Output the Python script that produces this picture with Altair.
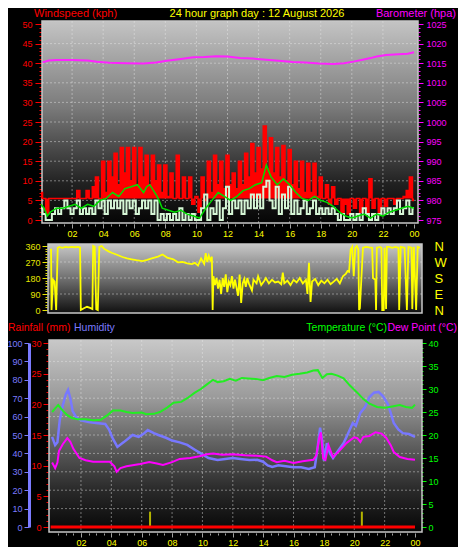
import altair as alt
import pandas as pd

# whole page is 466x555 with an 8px margin -> drawing area 450x539
W, H = 450, 539
FONT = "Liberation Sans"

# ---------------- data ----------------
hour_labels = [2, 4, 6, 8, 10, 12, 14, 16, 18, 20, 22, 24]
grid_hours = [2, 4, 6, 8, 10, 12, 14, 16, 18, 20, 22]
half_hours = [h / 2 for h in range(1, 48)]

# gust / wind speed sampled every 0.2 h (rows = 2 hours)
gust_kph = [
    7, 5.5, 1.5, 5.5, 5.5, 5.5, 5.5, 5.5, 5.5, 5.5,
    5.5, 5.5, 7.5, 5.5, 5.5, 7.5, 5.5, 8.5, 11, 5.5,
    15, 7, 15, 11, 17, 9, 18.5, 12, 18.5, 10,
    18.5, 9, 18.5, 11, 16.5, 9, 16.5, 10, 14, 7,
    14, 6, 12, 5.5, 16.5, 5.5, 11, 5.5, 11, 4,
    6, 2, 11, 5, 15, 7, 16.5, 9, 15, 8,
    16.5, 9, 12, 8, 15, 9, 17, 11, 19.5, 12,
    18.5, 13, 24, 13, 21, 12, 18.5, 11, 19, 10,
    18, 9, 15, 8, 15, 7, 14.5, 7, 14.5, 6,
    11, 5.5, 9, 4, 8.5, 4, 5.5, 2, 4, 1.5,
    5.5, 3, 5.5, 2, 5.5, 2, 10.5, 3, 5.5, 2,
    5.5, 3.5, 5.5, 5.5, 4, 5.5, 5.5, 6, 7.5, 11,
    5,
]
gust_floor_kph = 5.5
wind_kph = [
    3, 1.5, 0, 0, 1.5, 3, 1.5, 3, 5, 3,
    1.5, 3, 5, 1.5, 3, 1.5, 3, 1.5, 5, 3,
    5, 1.5, 5, 3, 5, 3, 5, 1.5, 5, 3,
    5, 1.5, 3, 5, 3, 5, 1.5, 5, 0, 1.5,
    0, 1.5, 0, 1.5, 0, 3, 0, 1.5, 0, 1.5,
    0, 0, 3, 6.5, 0, 3, 1.5, 5, 0, 3,
    8.5, 1.5, 5, 3, 5, 1.5, 5, 3, 6.5, 3,
    6.5, 3, 8.5, 10, 5, 3, 8.5, 1.5, 6.5, 3,
    8.5, 1.5, 5, 1.5, 3, 5, 1.5, 3, 5, 1.5,
    3, 1.5, 3, 1.5, 3, 1.5, 0, 1.5, 0, 0,
    1.5, 0, 1.5, 0, 3, 1.5, 0, 1.5, 0, 1.5,
    3, 1.5, 3, 1.5, 3, 5, 1.5, 3, 5, 1.5,
    3,
]
sample_hours = [round(i * 0.2, 2) for i in range(len(gust_kph))]

avg_pts = [(0.0, 4), (0.2, 3), (0.4, 1), (0.6, 2), (0.8, 2.5), (1.0, 3), (1.4, 3), (1.8, 3.5),
           (2.2, 4), (2.6, 3), (3.0, 4), (3.4, 3.5), (3.8, 5), (4.2, 5.5), (4.6, 7), (5.0, 6),
           (5.4, 8), (5.8, 8.5), (6.2, 9), (6.6, 7), (6.8, 8.5), (7.0, 9), (7.4, 6.5), (7.6, 5),
           (7.8, 3), (8.2, 2.5), (8.6, 2), (9.0, 2.5), (9.4, 1.5), (9.8, 1), (10.2, 0.5), (10.6, 3),
           (11.0, 5), (11.4, 7), (11.8, 6), (12.2, 5), (12.6, 6), (13.0, 7.5), (13.4, 8), (13.8, 9),
           (14.2, 9.5), (14.5, 14), (14.8, 11), (15.2, 9), (15.6, 10.5), (16.0, 9), (16.4, 7),
           (16.8, 5.5), (17.2, 5), (17.6, 6), (18.0, 5), (18.4, 4.5), (18.8, 3.5), (19.2, 2),
           (19.6, 1), (20.0, 0.5), (20.4, 1), (20.8, 1.5), (21.2, 0.5), (21.6, 1.5), (22.0, 1),
           (22.4, 2), (22.8, 2.5), (23.2, 3), (23.6, 3.5), (24.0, 3)]

baro_pts = [(0.1, 1015.2), (0.5, 1015.7), (1.0, 1015.8), (2.0, 1015.8), (3.0, 1015.7), (3.6, 1015.4),
            (4.4, 1015.1), (5.5, 1015.0), (6.6, 1014.9), (7.4, 1015.2), (8.1, 1015.6), (9.0, 1016.1),
            (9.8, 1016.5), (10.5, 1016.6), (11.3, 1016.8), (12.0, 1016.7), (12.8, 1016.3),
            (13.6, 1016.2), (14.5, 1015.9), (15.3, 1015.6), (16.2, 1015.3), (17.0, 1015.2),
            (17.9, 1014.9), (18.8, 1014.8), (19.5, 1015.0), (20.1, 1015.4), (20.7, 1015.9),
            (21.2, 1016.3), (21.6, 1016.7), (22.2, 1017.1), (23.0, 1017.3), (23.6, 1017.4), (24.0, 1017.8)]

dir_pts = [(0.0, 340), (0.07, 340), (0.1, 0), (0.2, 170), (0.3, 160), (0.4, 0), (0.5, 350), (0.6, 355),
           (0.8, 350), (1.0, 355), (1.2, 352), (1.4, 355), (1.6, 353), (1.8, 355), (1.95, 352), (2.0, 0),
           (2.2, 10), (2.4, 18), (2.6, 12), (2.75, 5), (2.8, 360), (2.9, 355), (3.0, 5), (3.1, 0),
           (3.2, 355), (3.35, 360), (3.5, 345), (3.8, 330), (4.0, 322), (4.3, 312), (4.5, 305),
           (4.7, 298), (5.0, 290), (5.3, 285), (5.6, 280), (6.0, 275), (6.3, 282), (6.6, 290),
           (7.0, 300), (7.3, 312), (7.6, 295), (8.0, 285), (8.3, 268), (8.6, 270), (8.9, 262),
           (9.2, 258), (9.4, 265), (9.6, 250), (9.8, 290), (10.0, 260), (10.1, 320), (10.2, 270),
           (10.3, 305), (10.4, 280), (10.5, 300), (10.55, 0), (10.6, 190), (10.7, 140), (10.8, 180),
           (10.9, 120), (11.0, 170), (11.1, 90), (11.2, 180), (11.3, 130), (11.4, 200), (11.5, 100),
           (11.6, 160), (11.7, 140), (11.8, 190), (11.9, 120), (12.0, 170), (12.2, 80), (12.3, 200),
           (12.4, 40), (12.5, 150), (12.6, 175), (12.7, 130), (12.8, 180), (12.9, 150), (13.1, 110),
           (13.2, 170), (13.4, 150), (13.5, 190), (13.7, 140), (13.9, 165), (14.0, 180), (14.2, 150),
           (14.4, 170), (14.6, 155), (14.8, 160), (15.0, 145), (15.1, 210), (15.2, 150), (15.4, 165),
           (15.6, 140), (15.8, 170), (16.0, 155), (16.2, 180), (16.4, 150), (16.6, 170), (16.7, 90),
           (16.8, 265), (16.9, 45), (17.0, 160), (17.2, 175), (17.4, 140), (17.6, 165), (17.8, 150),
           (18.0, 170), (18.2, 145), (18.4, 160), (18.6, 175), (18.8, 150), (19.0, 190), (19.2, 205),
           (19.3, 220), (19.4, 215), (19.5, 340), (19.6, 355), (19.7, 190), (19.8, 350), (19.9, 360),
           (20.0, 340), (20.05, 0), (20.1, 10), (20.2, 180), (20.3, 350), (20.5, 355), (20.7, 352),
           (20.9, 350), (20.95, 180), (21.1, 170), (21.15, 0), (21.2, 350), (21.4, 355), (21.5, 350),
           (21.55, 0), (21.65, 0), (21.7, 350), (21.8, 5), (21.85, 355), (22.0, 355), (22.2, 350),
           (22.4, 355), (22.6, 350), (22.65, 0), (22.75, 355), (23.0, 350), (23.15, 0), (23.25, 355),
           (23.45, 350), (23.5, 5), (23.6, 355), (23.75, 0), (23.85, 355), (24.0, 350)]
compass_values = [0, 90, 180, 270, 360]

temp_pts = [(0.1, 25.0), (0.3, 25.8), (0.5, 26.5), (0.8, 25.3), (1.1, 24.3), (1.4, 23.7), (1.8, 23.4),
            (2.3, 23.4), (2.8, 23.2), (3.3, 23.3), (3.7, 24.2), (4.1, 25.3), (4.6, 25.3), (5.0, 25.0),
            (5.4, 24.8), (6.0, 24.9), (6.3, 24.5), (6.8, 24.6), (7.2, 25.0), (7.7, 26.0), (8.1, 27.0),
            (8.6, 27.2), (9.0, 28.0), (9.5, 29.2), (9.9, 30.0), (10.3, 31.0), (10.7, 32.0), (11.0, 31.5),
            (11.4, 31.7), (11.8, 32.2), (12.2, 31.8), (12.6, 32.4), (13.0, 32.3), (13.5, 32.2),
            (14.0, 31.9), (14.4, 32.4), (14.9, 32.8), (15.4, 32.6), (15.9, 33.1), (16.4, 33.3),
            (16.9, 33.6), (17.3, 34.0), (17.6, 34.1), (17.9, 32.4), (18.2, 33.2), (18.5, 33.3),
            (18.9, 32.9), (19.3, 32.3), (19.7, 30.8), (20.2, 29.2), (20.6, 27.8), (21.0, 26.8),
            (21.5, 26.1), (22.0, 25.9), (22.5, 26.2), (23.0, 26.5), (23.4, 26.1), (23.8, 25.9), (24.0, 26.6)]

hum_pts = [(0.1, 49), (0.3, 44.5), (0.45, 46), (0.6, 58), (0.8, 66), (1.0, 72), (1.15, 74.5), (1.3, 70),
           (1.45, 63), (1.7, 59.5), (2.0, 58), (2.5, 57), (3.0, 56.5), (3.6, 56), (3.85, 53), (4.1, 48),
           (4.4, 43.5), (4.8, 46), (5.1, 48), (5.4, 50), (5.8, 49), (6.1, 50.5), (6.4, 52.7), (6.8, 51),
           (7.1, 50), (7.6, 48.5), (8.0, 47), (8.5, 46), (9.0, 44.6), (9.5, 42), (10.0, 39.5),
           (10.4, 37.5), (11.0, 36.4), (11.5, 37), (12.0, 37.5), (12.5, 37), (13.1, 36.4), (13.6, 36.5),
           (14.0, 35.5), (14.3, 33.5), (14.6, 32.6), (15.0, 33.5), (15.5, 33), (16.0, 32.5), (16.5, 32.5),
           (17.0, 31.5), (17.4, 32.5), (17.6, 44), (17.75, 54), (17.9, 46), (18.0, 36), (18.2, 45.6),
           (18.4, 40), (18.6, 37.5), (18.9, 41), (19.3, 45.6), (19.6, 51), (19.9, 56.5), (20.1, 55),
           (20.4, 62), (20.7, 65), (21.0, 70.6), (21.3, 73), (21.6, 73.4), (21.9, 71), (22.2, 67),
           (22.4, 62), (22.6, 56.5), (22.9, 53), (23.2, 51), (23.6, 50.5), (24.0, 49)]

dew_pts = [(0.1, 14), (0.3, 12.8), (0.45, 14), (0.55, 16.5), (0.8, 18), (1.1, 19.3), (1.3, 18.5),
           (1.5, 17), (1.9, 15), (2.3, 14.5), (2.8, 14.2), (3.4, 14.2), (3.9, 14.2), (4.2, 13.2),
           (4.35, 12), (4.6, 12.8), (5.0, 13.2), (5.5, 13.5), (5.9, 13.7), (6.5, 14.1), (7.0, 13.8),
           (7.4, 13.5), (8.0, 14.1), (8.5, 14.8), (9.2, 15.0), (9.8, 15.4), (10.3, 15.8), (10.7, 16.0),
           (11.3, 15.7), (12.0, 15.8), (12.8, 15.6), (13.6, 15.5), (14.2, 15.3), (14.6, 14.5),
           (14.9, 14.1), (15.4, 14.4), (16.0, 13.9), (16.6, 14.3), (17.3, 14.6), (17.5, 15.5),
           (17.7, 19.5), (17.8, 20.6), (17.95, 15.0), (18.1, 14.6), (18.3, 17.8), (18.45, 16.5),
           (18.6, 15.2), (19.0, 16.5), (19.5, 18.3), (20.0, 19.5), (20.2, 19.3), (20.4, 18.5),
           (20.6, 19.6), (21.0, 19.8), (21.4, 20.6), (21.8, 20.3), (22.1, 19.4), (22.4, 17.8),
           (22.6, 16.3), (23.0, 15.2), (23.5, 14.8), (24.0, 14.6)]

rain_pts = [(0.0, 0), (24.0, 0)]
rain_mark_pts = [(6.55, 2.5), (20.5, 2.5)]

titles = [
    ("Windspeed (kph)", 26, 9, "left", "#ff0000", 11),
    ("24 hour graph day : 12 August 2026", 249, 9, "center", "#ffff00", 11),
    ("Barometer (hpa)", 448, 9, "right", "#ff00ff", 11),
    ("Rainfall (mm)", 0, 323, "left", "#ff0000", 10.5),
    ("Humidity", 66, 323, "left", "#7b7bff", 10.5),
    ("Temperature (°C)", 379, 323, "right", "#00ff00", 10.5),
    ("Dew Point (°C)", 449, 323, "right", "#ff00ff", 10.5),
]


def df(pts, name):
    return pd.DataFrame({"t": [p[0] for p in pts], name: [p[1] for p in pts]})


def grad(stops):
    return {"gradient": "linear", "x1": 0, "x2": 0, "y1": 0, "y2": 1,
            "stops": [{"offset": o, "color": c} for o, c in stops]}


ONE = alt.Data(values=[{"a": 1}])
hour_expr = "(datum.value % 24 < 10 ? '0' : '') + (datum.value % 24)"
grid_style = dict(color="#e8e8e8", strokeDash=[2, 2], opacity=0.45, strokeWidth=1)

# panel geometry (pixels inside the chart group)
XR = {"top": [33, 406], "mid": [42, 412], "bot": [42.6, 407]}
YR = {"top": [212, 16], "mid": [302, 238], "bot": [519, 335]}


def sc(dom, rng):
    return alt.Scale(domain=dom, range=rng, nice=False, zero=False)


def X(panel, field="t:Q", axis=None):
    return alt.X(field, scale=sc([0, 24], XR[panel]), axis=axis)


def Y(panel, dom, field, axis=None):
    return alt.Y(field, scale=sc(dom, YR[panel]), axis=axis)


def xaxis(offset):
    return alt.Axis(orient="bottom", offset=offset, values=hour_labels, labelExpr=hour_expr,
                    labelColor="#ffff00", tickColor="#a0a0a0", tickSize=4, labelPadding=1,
                    domain=False, grid=False, labelFlush=False, title=None, labelFontSize=9)


def yaxis(orient, offset, values, color, tick=5, pad=2, **kw):
    return alt.Axis(orient=orient, offset=offset, values=values, labelColor=color, tickColor=color,
                    tickSize=tick, labelPadding=pad, grid=False, title=None, labelFontSize=9,
                    labelFlush=False, format="d", **kw)


def minor_y(panel, dom, vals, orient, offset, color, size):
    return alt.Chart(pd.DataFrame({"v": vals})).mark_point(opacity=0).encode(
        x=alt.value(100),
        y=Y(panel, dom, "v:Q", axis=alt.Axis(orient=orient, offset=offset, values=vals, labels=False,
                                             domain=False, grid=False, tickColor=color,
                                             tickSize=size, title=None)))


def minor_x(panel, offset):
    return alt.Chart(pd.DataFrame({"t": half_hours})).mark_point(opacity=0).encode(
        y=alt.value(100),
        x=X(panel, axis=alt.Axis(orient="bottom", offset=offset, values=half_hours, labels=False,
                                 domain=False, grid=False, tickColor="#a0a0a0", tickSize=2,
                                 title=None)))


def bg(x0, x1, y0, y1, stops):
    return alt.Chart(ONE).mark_rect(fill=grad(stops), stroke="#c8c8c8", strokeWidth=1.5).encode(
        x=alt.value(x0), x2=alt.value(x1), y=alt.value(y0), y2=alt.value(y1))


layers = []

# ---------------- top panel ----------------
WIND = [0, 50]
BARO = [975, 1025]
TOP_X_OFF = 216 - H
layers.append(bg(34, 410, 13, 215, [(0, "#c4c4c4"), (0.43, "#7a7a7a"), (0.62, "#4c4c4c"),
                                    (0.81, "#202020"), (1, "#050505")]))
layers.append(alt.Chart(pd.DataFrame({"t": grid_hours})).mark_rule(**grid_style).encode(
    x=X("top"), y=alt.value(13), y2=alt.value(215)))
layers.append(alt.Chart(pd.DataFrame({"v": list(range(5, 50, 5))})).mark_rule(**grid_style).encode(
    y=Y("top", WIND, "v:Q"), x=alt.value(34), x2=alt.value(410)))

wind_df = pd.DataFrame({"t": sample_hours, "g": gust_kph, "w": wind_kph})
layers.append(alt.Chart(wind_df).mark_area(color="#ff0000", interpolate="step").encode(
    x=X("top", axis=xaxis(TOP_X_OFF)),
    y=Y("top", WIND, "g:Q", axis=yaxis("left", -34, list(range(0, 51, 5)), "#ff0000", tick=7, pad=3,
                                       domain=False)),
    y2=alt.datum(gust_floor_kph)))
layers.append(alt.Chart(wind_df).mark_line(color="#ff0000", strokeWidth=1.5, interpolate="step").encode(
    x=X("top"), y=Y("top", WIND, "g:Q")))
layers.append(alt.Chart(wind_df).mark_line(color="#d6f6d6", strokeWidth=2, interpolate="step").encode(
    x=X("top"), y=Y("top", WIND, "w:Q")))
layers.append(alt.Chart(df(avg_pts, "a")).mark_line(color="#00dd00", strokeWidth=1.5).encode(
    x=X("top"), y=Y("top", WIND, "a:Q")))
layers.append(alt.Chart(df(baro_pts, "b")).mark_line(color="#ff22ff", strokeWidth=2).encode(
    x=X("top"),
    y=Y("top", BARO, "b:Q",
        axis=yaxis("right", 410 - W, list(range(975, 1026, 5)), "#ff00ff", tick=5, pad=3, domain=False))))
layers.append(minor_y("top", WIND, list(range(0, 51)), "left", -34, "#ff0000", 3))
layers.append(minor_y("top", BARO, list(range(975, 1026)), "right", 410 - W, "#ff00ff", 2))
layers.append(minor_x("top", TOP_X_OFF))

# ---------------- middle panel ----------------
DIR = [0, 360]
layers.append(bg(40, 414, 236, 305, [(0, "#c8c8c8"), (0.5, "#707070"), (1, "#101010")]))
layers.append(alt.Chart(pd.DataFrame({"v": [90, 180, 270]})).mark_rule(**grid_style).encode(
    y=Y("mid", DIR, "v:Q"), x=alt.value(40), x2=alt.value(414)))
layers.append(alt.Chart(df(dir_pts, "d")).mark_line(color="#ffff00", strokeWidth=1.8).encode(
    x=X("mid"),
    y=Y("mid", DIR, "d:Q", axis=yaxis("left", -39, compass_values, "#e6e600", tick=5, pad=2,
                                      domain=False))))
layers.append(minor_y("mid", DIR, list(range(0, 361, 15)), "left", -39, "#e6e600", 2))
layers.append(alt.Chart(pd.DataFrame({"v": compass_values})).mark_point(opacity=0).encode(
    x=alt.value(100),
    y=Y("mid", DIR, "v:Q",
        axis=alt.Axis(orient="right", offset=414 - W, values=compass_values,
                      labelExpr="datum.value == 0 || datum.value == 360 ? 'N' : datum.value == 270 ? 'W' : datum.value == 180 ? 'S' : 'E'",
                      ticks=False, domain=False, grid=False, labelPadding=12, labelFontSize=13,
                      labelColor="#ffff00", title=None, labelFlush=False))))

# ---------------- bottom panel ----------------
HUM = [0, 100]
RAIN = [0, 30]
TEMP = [0, 40]
BOT_X_OFF = 525 - H
layers.append(bg(41, 414, 332, 524, [(0, "#c8c8c8"), (0.31, "#999999"), (0.57, "#5a5a5a"),
                                     (0.78, "#2a2a2a"), (1, "#060606")]))
layers.append(alt.Chart(pd.DataFrame({"t": grid_hours})).mark_rule(**grid_style).encode(
    x=X("bot"), y=alt.value(332), y2=alt.value(524)))
layers.append(alt.Chart(pd.DataFrame({"v": list(range(10, 100, 10))})).mark_rule(**grid_style).encode(
    y=Y("bot", HUM, "v:Q"), x=alt.value(41), x2=alt.value(414)))
layers.append(alt.Chart(df(hum_pts, "h")).mark_line(color="#7878ff", strokeWidth=2.5).encode(
    x=X("bot", axis=xaxis(BOT_X_OFF)),
    y=Y("bot", HUM, "h:Q",
        axis=yaxis("left", -21, list(range(0, 101, 10)), "#7b7bff", domain=True,
                   domainColor="#7b7bff", domainWidth=3))))
layers.append(alt.Chart(pd.DataFrame({"t": [p[0] for p in rain_mark_pts],
                                      "r": [p[1] for p in rain_mark_pts]})).mark_rule(
    color="#b4b400", strokeWidth=2).encode(
    x=X("bot"), y=Y("bot", RAIN, "r:Q"), y2=alt.datum(0)))
layers.append(alt.Chart(df(rain_pts, "r")).mark_line(color="#ff0000", strokeWidth=3).encode(
    x=X("bot"),
    y=Y("bot", RAIN, "r:Q", axis=yaxis("left", -40, list(range(0, 31, 5)), "#ff0000", tick=5,
                                       domain=False))))
layers.append(alt.Chart(df(dew_pts, "dp")).mark_line(color="#ff00ff", strokeWidth=2).encode(
    x=X("bot"), y=Y("bot", TEMP, "dp:Q")))
layers.append(alt.Chart(df(temp_pts, "tc")).mark_line(color="#22ee22", strokeWidth=2).encode(
    x=X("bot"),
    y=Y("bot", TEMP, "tc:Q",
        axis=yaxis("right", 413 - W, list(range(0, 41, 5)), "#00ff00", tick=5, pad=2, domain=False))))
layers.append(minor_y("bot", RAIN, list(range(0, 31)), "left", -40, "#ff0000", 2))
layers.append(minor_y("bot", TEMP, list(range(0, 41)), "right", 413 - W, "#00ff00", 2))
layers.append(minor_x("bot", BOT_X_OFF))

# ---------------- titles ----------------
for s, x, y, al, c, fs in titles:
    layers.append(
        alt.Chart(alt.Data(values=[{"s": s}])).mark_text(
            align=al, baseline="alphabetic", color=c, fontSize=fs, font=FONT).encode(
            text="s:N", x=alt.value(x), y=alt.value(y)))

chart = alt.layer(*layers).resolve_scale(x="independent", y="independent").properties(
    width=W, height=H, background="#000000", padding=0,
    autosize=alt.AutoSizeParams(type="none")).configure_view(stroke=None).configure_axis(
    labelFont=FONT)

chart.save("out.html", embed_options={"renderer": "svg", "actions": False})
